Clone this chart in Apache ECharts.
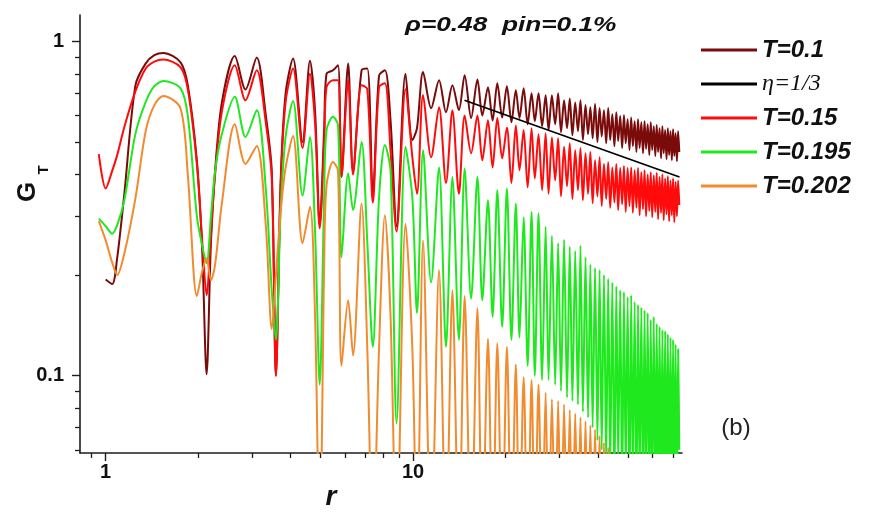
<!DOCTYPE html>
<html>
<head>
<meta charset="utf-8">
<script src="https://cdn.jsdelivr.net/npm/echarts@6/dist/echarts.min.js"></script>
<style>
  html, body { margin: 0; padding: 0; background: #ffffff; }
  #chart { width: 872px; height: 518px; }
</style>
</head>
<body>
<div id="chart"></div>
<script>
// Pair correlation G_T(r) at rho = 0.48, pinning 0.1 %, for four temperatures.
// Shared radial positions (low-r structure first, then the long oscillating tail).
const r = [
  0.95, 1.0, 1.05, 1.09, 1.15, 1.25, 1.35, 1.44, 1.54, 1.75, 1.85, 1.98, 2.06, 2.13, 2.2, 2.27, 2.39,
  2.63, 2.85, 3.1, 3.32, 3.47, 3.58, 3.71, 3.85, 4.07, 4.37, 4.62, 4.8, 4.97, 5.14, 5.23, 5.49,
  5.7, 5.85, 6.15, 6.38, 6.8, 7.1, 7.4, 7.75, 8.1, 8.45, 8.84, 9.45, 9.95, 10.3,
  10.78, 11.45, 12.15, 12.8, 13.43, 14.1, 14.72, 15.45, 16.2, 16.8, 17.53, 18.15, 18.8, 19.5,
  20.2, 20.9, 21.6, 22.2, 22.9, 23.6, 24.3, 24.9, 25.6, 26.3, 27.0, 27.6, 28.3, 29.0, 29.65, 30.3,
  31.0, 31.7, 32.35, 33.0, 33.7, 34.4, 35.05, 35.7, 36.4, 37.1, 37.75, 38.4, 39.1, 39.8, 40.45, 41.1,
  41.8, 42.5, 43.15, 43.8, 44.5, 45.2, 45.85, 46.5, 47.2, 47.9, 48.55, 49.2, 49.9, 50.6, 51.25, 51.9,
  52.6, 53.3, 53.95, 54.6, 55.3, 56.0, 56.65, 57.3, 58.0, 58.7, 59.35, 60.0, 60.7, 61.4, 62.05, 62.7,
  63.4, 64.1, 64.75, 65.4, 66.1, 66.8, 67.45, 68.1, 68.8, 69.5, 70.15, 70.8, 71.5, 72.2, 72.85, 73.5
];

// T = 0.1
const gT010 = [
  null, 0.194, 0.188, 0.225, 0.35, 0.74, 0.86, 0.91, 0.924, 0.867, 0.74, 0.44, 0.24, 0.101, 0.25, 0.41, 0.66,
  0.904, 0.718, 0.895, 0.60, 0.41, 0.10, 0.385, 0.70, 0.889, 0.50, 0.875, 0.62, 0.282, 0.55, 0.80, 0.82,
  0.849, 0.393, 0.859, 0.41, 0.82, 0.83, 0.347, 0.79, 0.82, 0.58, 0.28, 0.80, 0.507, 0.55,
  0.81, 0.631, 0.766, 0.614, 0.74, 0.623, 0.793, 0.59, 0.77, 0.60, 0.73, 0.58, 0.75, 0.592,
  0.735, 0.573, 0.715, 0.59, 0.725, 0.565, 0.70, 0.577, 0.70, 0.558, 0.69, 0.543, 0.69, 0.565, 0.70, 0.535,
  0.667, 0.55, 0.675, 0.524, 0.657, 0.539, 0.667, 0.507, 0.645, 0.528, 0.636, 0.513, 0.65, 0.50, 0.632, 0.52,
  0.623, 0.496, 0.632, 0.507, 0.606, 0.486, 0.614, 0.504, 0.598, 0.48, 0.602, 0.496, 0.585, 0.473, 0.592, 0.486,
  0.577, 0.467, 0.585, 0.48, 0.573, 0.463, 0.577, 0.477, 0.565, 0.457, 0.573, 0.473, 0.558, 0.454, 0.562, 0.467,
  0.55, 0.447, 0.558, 0.463, 0.543, 0.444, 0.55, 0.457, 0.539, 0.441, 0.546, 0.454, 0.531, 0.438, 0.539, 0.467
];

// T = 0.15
const gT015 = [
  0.46, 0.363, 0.41, 0.457, 0.555, 0.71, 0.83, 0.87, 0.883, 0.838, 0.72, 0.43, 0.254, 0.174, 0.263, 0.40, 0.62,
  0.849, 0.667, 0.82, 0.57, 0.39, 0.10, 0.37, 0.66, 0.83, 0.48, 0.80, 0.57, 0.276, 0.50, 0.73, 0.766,
  0.766, 0.393, 0.766, 0.40, 0.74, 0.72, 0.33, 0.73, 0.75, 0.47, 0.27, 0.72, 0.45, 0.35,
  0.691, 0.45, 0.636, 0.377, 0.623, 0.35, 0.60, 0.463, 0.60, 0.441, 0.581, 0.42, 0.59, 0.447,
  0.553, 0.377, 0.56, 0.412, 0.543, 0.366, 0.55, 0.389, 0.528, 0.359, 0.531, 0.35, 0.516, 0.384, 0.513, 0.344,
  0.484, 0.369, 0.496, 0.338, 0.473, 0.359, 0.48, 0.335, 0.463, 0.35, 0.467, 0.328, 0.441, 0.344, 0.45, 0.322,
  0.43, 0.338, 0.435, 0.318, 0.42, 0.33, 0.43, 0.313, 0.418, 0.326, 0.424, 0.309, 0.418, 0.322, 0.42, 0.307,
  0.412, 0.318, 0.418, 0.302, 0.406, 0.315, 0.412, 0.30, 0.40, 0.311, 0.406, 0.298, 0.398, 0.309, 0.404, 0.294,
  0.393, 0.307, 0.40, 0.292, 0.389, 0.304, 0.395, 0.29, 0.384, 0.302, 0.389, 0.288, 0.38, 0.30, 0.384, 0.324
];

// T = 0.195
const gT0195 = [
  0.295, 0.28, 0.266, 0.282, 0.335, 0.53, 0.66, 0.735, 0.761, 0.725, 0.60, 0.30, 0.245, 0.217, 0.30, 0.41, 0.53,
  0.683, 0.518, 0.623, 0.36, 0.18, 0.128, 0.313, 0.52, 0.663, 0.346, 0.518, 0.27, 0.094, 0.35, 0.543, 0.595,
  0.562, 0.226, 0.403, 0.313, 0.50, 0.25, 0.122, 0.34, 0.49, 0.41, 0.072, 0.484, 0.34, 0.154,
  0.473, 0.19, 0.42, 0.122, 0.393, 0.128, 0.417, 0.17, 0.393, 0.168, 0.335, 0.15, 0.359, 0.14,
  0.363, 0.128, 0.327, 0.13, 0.298, 0.107, 0.309, 0.10, 0.306, 0.097, 0.279, 0.097, 0.262, 0.094, 0.249, 0.09,
  0.255, 0.086, 0.243, 0.084, 0.236, 0.082, 0.245, 0.078, 0.226, 0.075, 0.215, 0.07, 0.21, 0.064, 0.207, 0.06,
  0.20, 0.055, 0.195, 0.052, 0.19, 0.045, 0.185, 0.055, 0.18, 0.043, 0.178, 0.05, 0.172, 0.042, 0.174, 0.048,
  0.166, 0.04, 0.163, 0.047, 0.16, 0.041, 0.157, 0.046, 0.154, 0.04, 0.147, 0.045, 0.15, 0.04, 0.143, 0.044,
  0.14, 0.04, 0.137, 0.043, 0.136, 0.04, 0.133, 0.042, 0.13, 0.04, 0.128, 0.041, 0.124, 0.04, 0.12, 0.06
];

// T = 0.202 (the tail drops below the axis range beyond r ~ 45)
const gT0202 = [
  0.29, 0.254, 0.218, 0.20, 0.232, 0.34, 0.54, 0.645, 0.687, 0.632, 0.40, 0.173, 0.205, 0.224, 0.193, 0.215, 0.33,
  0.565, 0.43, 0.487, 0.28, 0.138, 0.20, 0.31, 0.42, 0.521, 0.249, 0.32, 0.15, 0.03, 0.22, 0.37, 0.436,
  0.41, 0.107, 0.168, 0.115, 0.327, 0.12, 0.03, 0.12, 0.302, 0.15, 0.03, 0.285, 0.12, 0.03,
  0.254, 0.03, 0.207, 0.03, 0.18, 0.03, 0.173, 0.03, 0.159, 0.03, 0.129, 0.03, 0.125, 0.03,
  0.122, 0.03, 0.108, 0.03, 0.099, 0.03, 0.097, 0.03, 0.094, 0.03, 0.089, 0.03, 0.085, 0.03, 0.084, 0.03,
  0.082, 0.03, 0.079, 0.03, 0.077, 0.03, 0.075, 0.03, 0.073, 0.03, 0.071, 0.03, 0.069, 0.03, 0.066, 0.03,
  0.063, 0.03, 0.061, 0.03, 0.058, 0.03
];

// Power-law guide with exponent eta = 1/3
const etaR = [14.7, 73.6];
const etaG = [0.667, 0.393];

// Axis ticks
const xMajorTicks = [1, 10];
const xMinorTicks = [0.9, 2, 3, 4, 5, 6, 7, 8, 9, 20, 30, 40, 50, 60, 70];
const yMajorTicks = [0.1, 1];
const yMinorTicks = [0.06, 0.07, 0.08, 0.09, 0.2, 0.3, 0.4, 0.5, 0.6, 0.7, 0.8, 0.9];

function toPairs(xs, ys) {
  const out = [];
  for (let i = 0; i < ys.length; i++) {
    if (ys[i] != null) out.push([xs[i], ys[i]]);
  }
  return out;
}

const X_MIN = 0.825, X_MAX = 75, Y_MIN = 0.0587, Y_MAX = 1.2;
const SANS = '"Liberation Sans", Arial, Helvetica, sans-serif';
const AXIS_COLOR = '#1e1e1e';
const plotRect = { left: 80, top: 15, width: 602, height: 438 };

function tickFmt(v) { return String(Math.round(v * 1000) / 1000); }

function curve(name, ys, color, z) {
  return {
    name: name,
    type: 'line',
    xAxisIndex: 0,
    yAxisIndex: 0,
    data: toPairs(r, ys),
    showSymbol: false,
    symbol: 'none',
    smooth: 0.3,
    clip: true,
    z: z,
    lineStyle: { color: color, width: 2 },
    itemStyle: { color: color }
  };
}

const chart = echarts.init(document.getElementById('chart'), null, { renderer: 'canvas' });

chart.setOption({
  animation: false,
  backgroundColor: '#ffffff',
  grid: [
    Object.assign({}, plotRect),
    Object.assign({}, plotRect)
  ],
  xAxis: [
    {
      type: 'log', gridIndex: 0, min: X_MIN, max: X_MAX, position: 'bottom',
      axisLine: { show: true, onZero: false, lineStyle: { color: AXIS_COLOR, width: 1.6 } },
      axisTick: { show: true, inside: false, length: 8, customValues: xMajorTicks,
                  lineStyle: { color: AXIS_COLOR, width: 1.4 } },
      axisLabel: { show: true, customValues: xMajorTicks, margin: 9, formatter: tickFmt,
                   fontFamily: SANS, fontSize: 20, fontWeight: 'bold', color: '#111' },
      splitLine: { show: false }
    },
    {
      type: 'log', gridIndex: 1, min: X_MIN, max: X_MAX, position: 'bottom',
      axisLine: { show: false },
      axisTick: { show: true, inside: false, length: 5, customValues: xMinorTicks,
                  lineStyle: { color: AXIS_COLOR, width: 1.3 } },
      axisLabel: { show: false },
      splitLine: { show: false }
    }
  ],
  yAxis: [
    {
      type: 'log', gridIndex: 0, min: Y_MIN, max: Y_MAX, position: 'left',
      axisLine: { show: true, onZero: false, lineStyle: { color: AXIS_COLOR, width: 1.6 } },
      axisTick: { show: true, inside: false, length: 8, customValues: yMajorTicks,
                  lineStyle: { color: AXIS_COLOR, width: 1.4 } },
      axisLabel: { show: true, customValues: yMajorTicks, margin: 16, formatter: tickFmt,
                   fontFamily: SANS, fontSize: 20, fontWeight: 'bold', color: '#111' },
      splitLine: { show: false }
    },
    {
      type: 'log', gridIndex: 1, min: Y_MIN, max: Y_MAX, position: 'left',
      axisLine: { show: false },
      axisTick: { show: true, inside: false, length: 5, customValues: yMinorTicks,
                  lineStyle: { color: AXIS_COLOR, width: 1.3 } },
      axisLabel: { show: false },
      splitLine: { show: false }
    }
  ],
  legend: {
    orient: 'vertical',
    left: 696,
    top: 33,
    itemWidth: 56,
    itemHeight: 3,
    itemGap: 10,
    icon: 'rect',
    data: ['T=0.1', 'η=1/3', 'T=0.15', 'T=0.195', 'T=0.202'],
    formatter: function (name) {
      return name.charAt(0) === 'η' ? '{eta|' + name + '}' : name;
    },
    textStyle: {
      fontFamily: SANS, fontSize: 24, fontWeight: 'bold', fontStyle: 'italic',
      color: '#111', lineHeight: 24,
      rich: {
        eta: { fontFamily: '"Liberation Serif", "Times New Roman", serif', fontSize: 24,
               fontStyle: 'italic', fontWeight: 'normal', color: '#111', lineHeight: 24 }
      }
    }
  },
  graphic: [
    {
      type: 'text', x: 405, y: 25, scaleX: 1.25,
      style: { text: 'ρ=0.48  pin=0.1%', fontFamily: SANS, fontSize: 21,
               fontWeight: 'bold', fontStyle: 'italic', fill: '#111',
               align: 'left', verticalAlign: 'middle' }
    },
    {
      type: 'text', x: 28, y: 192, rotation: Math.PI / 2,
      style: { text: 'G', fontFamily: SANS, fontSize: 26, fontWeight: 'bold',
               fill: '#111', align: 'center', verticalAlign: 'middle' }
    },
    {
      type: 'text', x: 44, y: 170, rotation: Math.PI / 2,
      style: { text: 'T', fontFamily: SANS, fontSize: 15, fontWeight: 'bold',
               fill: '#111', align: 'center', verticalAlign: 'middle' }
    },
    {
      type: 'text', x: 331, y: 497,
      style: { text: 'r', fontFamily: SANS, fontSize: 28, fontWeight: 'bold', fontStyle: 'italic',
               fill: '#111', align: 'center', verticalAlign: 'middle' }
    },
    {
      type: 'text', x: 736, y: 428,
      style: { text: '(b)', fontFamily: SANS, fontSize: 24, fill: '#222',
               align: 'center', verticalAlign: 'middle' }
    }
  ],
  series: [
    curve('T=0.1', gT010, '#7a0b0b', 2),
    curve('T=0.15', gT015, '#ff0b0b', 3),
    curve('T=0.195', gT0195, '#1fe81f', 4),
    curve('T=0.202', gT0202, '#f28a2e', 5),
    {
      name: 'η=1/3',
      type: 'line',
      xAxisIndex: 0,
      yAxisIndex: 0,
      data: toPairs(etaR, etaG),
      showSymbol: false,
      symbol: 'none',
      z: 6,
      lineStyle: { color: '#000000', width: 1.8 },
      itemStyle: { color: '#000000' }
    }
  ]
});
</script>
</body>
</html>
